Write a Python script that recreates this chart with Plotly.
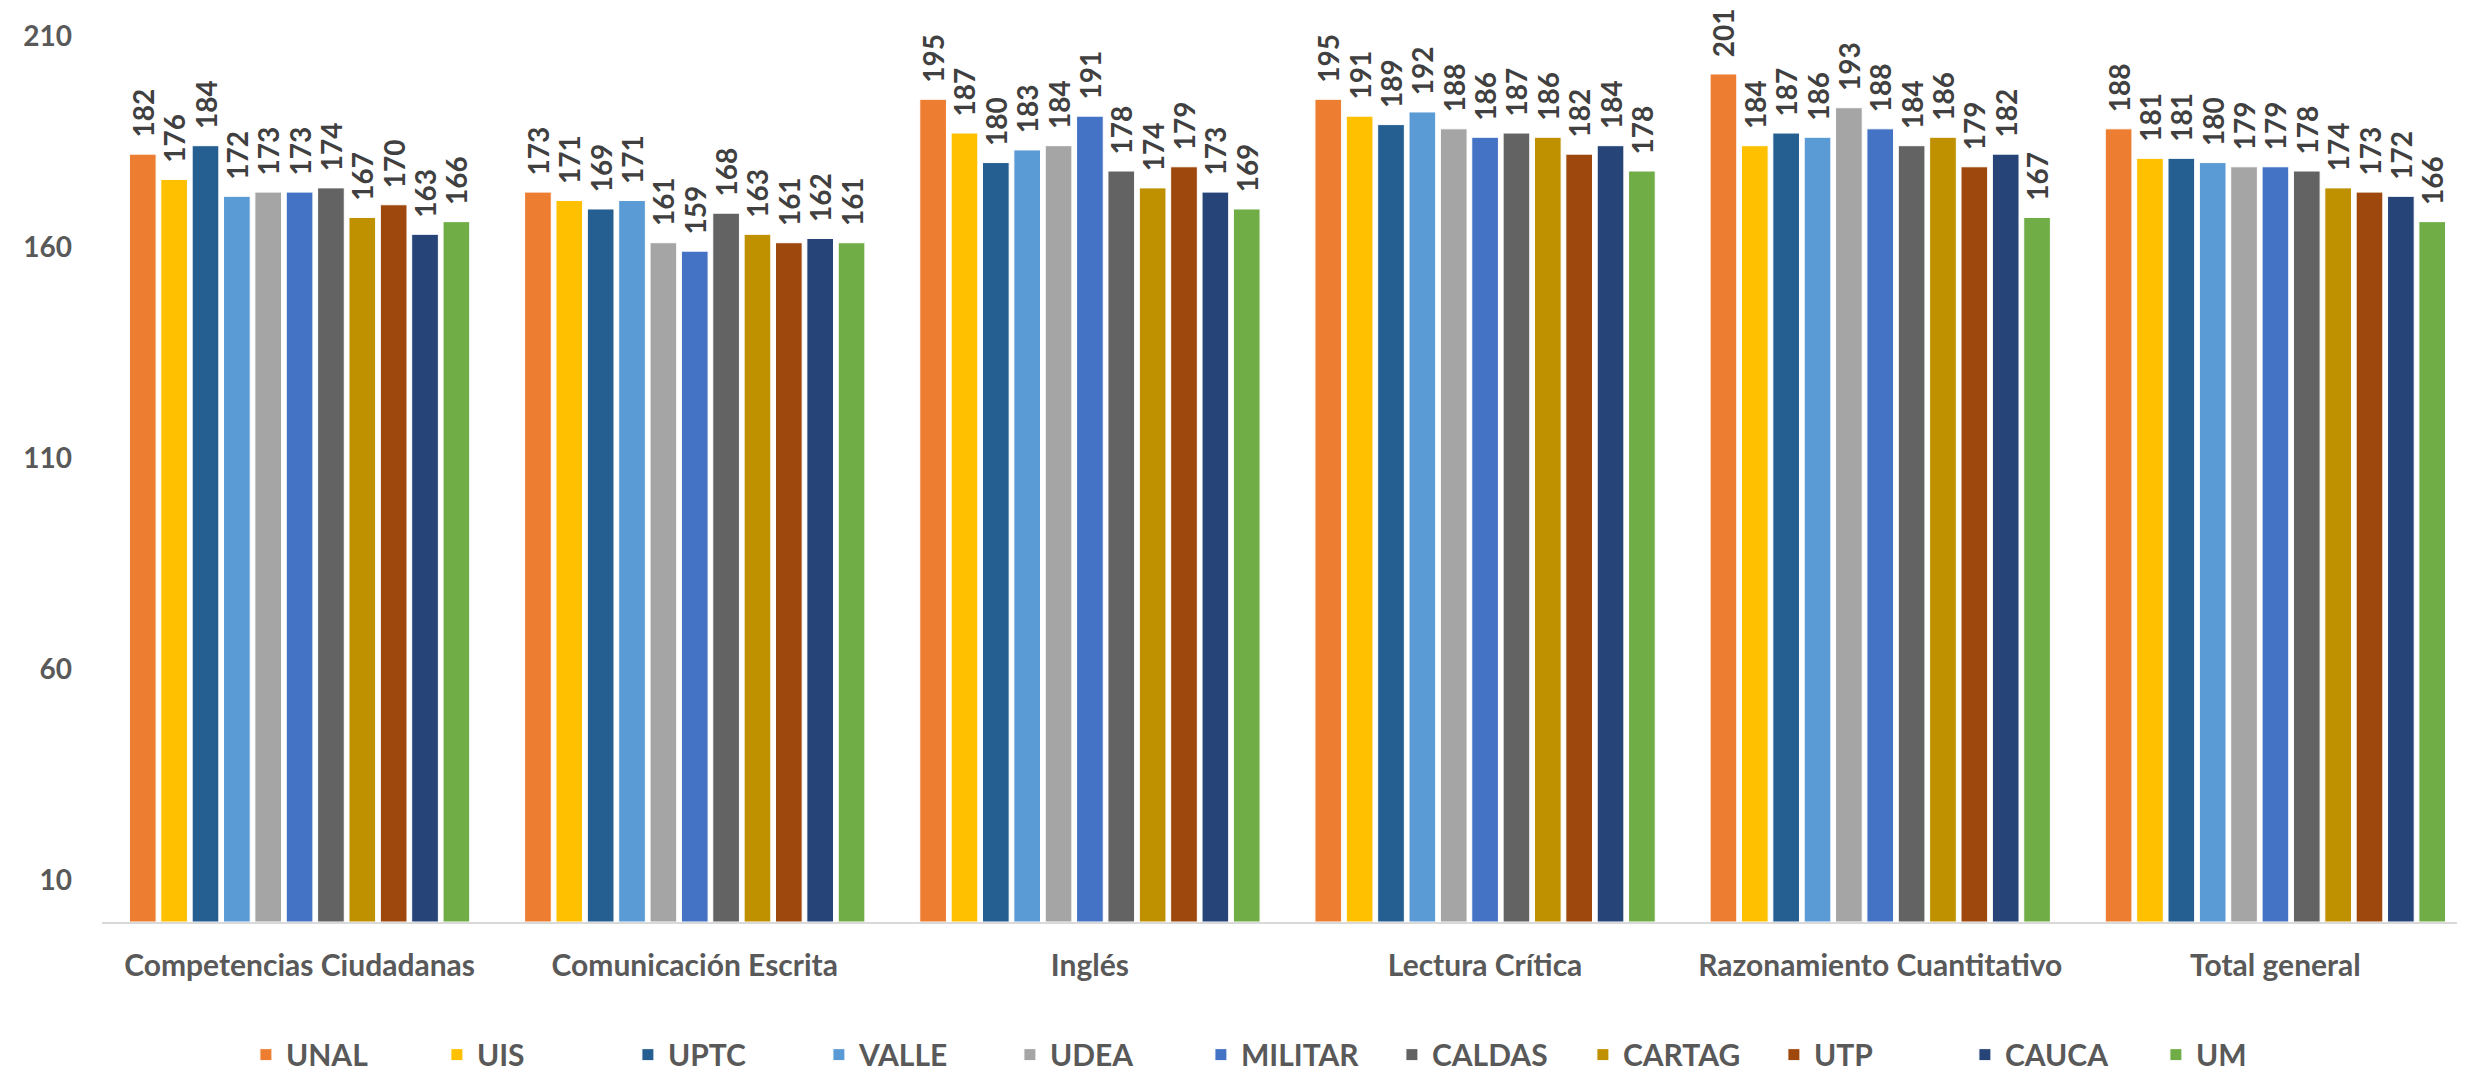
import plotly.graph_objects as go

categories = ["Competencias Ciudadanas", "Comunicación Escrita", "Inglés",
              "Lectura Crítica", "Razonamiento Cuantitativo", "Total general"]
series_names = ["UNAL", "UIS", "UPTC", "VALLE", "UDEA", "MILITAR",
                "CALDAS", "CARTAG", "UTP", "CAUCA", "UM"]
unal = [182, 173, 195, 195, 201, 188]
uis = [176, 171, 187, 191, 184, 181]
uptc = [184, 169, 180, 189, 187, 181]
valle = [172, 171, 183, 192, 186, 180]
udea = [173, 161, 184, 188, 193, 179]
militar = [173, 159, 191, 186, 188, 179]
caldas = [174, 168, 178, 187, 184, 178]
cartag = [167, 163, 174, 186, 186, 174]
utp = [170, 161, 179, 182, 179, 173]
cauca = [163, 162, 173, 184, 182, 172]
um = [166, 161, 169, 178, 167, 166]
series_values = [unal, uis, uptc, valle, udea, militar, caldas, cartag, utp, cauca, um]
colors = ["#ED7D31", "#FFC000", "#255E91", "#5B9BD5", "#A5A5A5", "#4472C4",
          "#636363", "#BF9000", "#9E480E", "#264478", "#70AD47"]
y_ticks = [10, 60, 110, 160, 210]

FONT = "Lato"
PAD = "\u00a0\u00a0"
fig = go.Figure()
for name, vals, col in zip(series_names, series_values, colors):
    fig.add_trace(go.Bar(
        name=name, x=categories, y=vals,
        marker=dict(color=col, line=dict(color="white", width=1)),
        text=[PAD + str(v) for v in vals], textposition="outside", textangle=-90,
        constraintext="none",
        textfont=dict(family=FONT, size=28, color="#404040", weight="bold"),
        cliponaxis=False,
    ))

fig.update_layout(
    width=2465, height=1073,
    paper_bgcolor="white", plot_bgcolor="white",
    barmode="group", bargap=0.127, bargroupgap=0.15,
    margin=dict(l=94, r=0, t=28, b=150),
    font=dict(family=FONT, color="#595959", size=30),
    xaxis=dict(showline=True, linecolor="#D9D9D9", linewidth=2, ticks="",
               ticklabelstandoff=16,
               tickfont=dict(family=FONT, size=30, color="#595959", weight="bold")),
    yaxis=dict(range=[0, 210], tickvals=y_ticks, showgrid=False, zeroline=False,
               showline=False, ticks="", ticklabelstandoff=29,
               tickfont=dict(family=FONT, size=28, color="#595959", weight="bold")),
    legend=dict(orientation="h", x=0.0607, xanchor="left", y=-0.1497, yanchor="middle",
                entrywidth=146, entrywidthmode="pixels",
                font=dict(family=FONT, size=30, color="#595959", weight="bold")),
)
fig.write_html("out.html")
